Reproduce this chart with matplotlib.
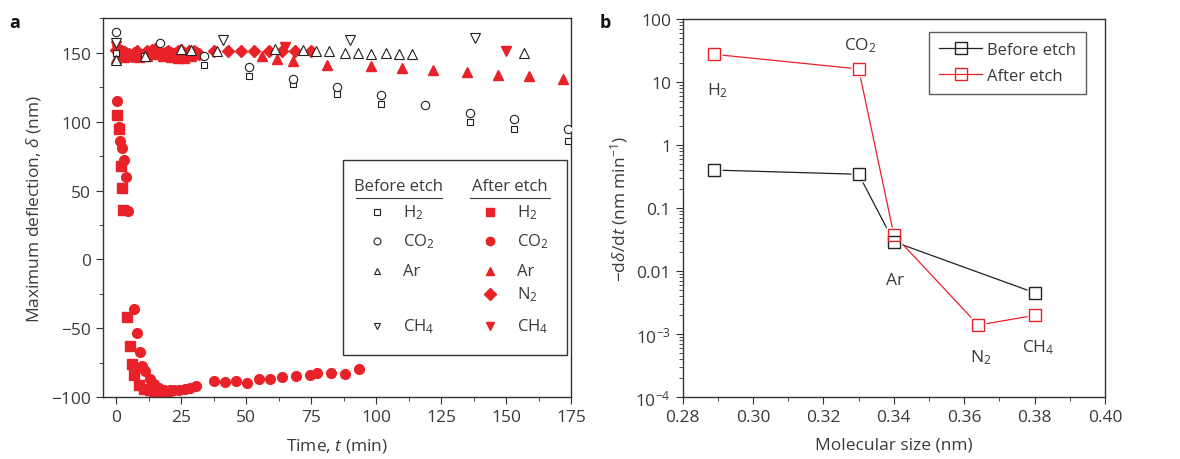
import numpy as np
import matplotlib
matplotlib.use('Agg')
import matplotlib.pyplot as plt
from matplotlib.lines import Line2D
from matplotlib.patches import Rectangle

plt.rcParams["font.family"] = ["Open Sans", "DejaVu Sans"]
plt.rcParams["mathtext.fontset"] = "custom"
plt.rcParams["mathtext.rm"] = "Open Sans"
plt.rcParams["mathtext.it"] = "Open Sans:italic"
plt.rcParams["mathtext.bf"] = "Open Sans:bold"
plt.rcParams["font.size"] = 12

TXT = "#3a3a3a"
RED = "#e92128"

# ---- panel a: before etch (open black markers) ----
b_h2_t = [0, 10.6, 34, 51, 68, 85, 102, 136, 153, 174]
b_h2_d = [150, 148, 141, 133, 127, 120, 113, 100, 95, 86]
b_co2_t = [0, 17, 34, 51, 68, 85, 102, 119, 136, 153, 174]
b_co2_d = [165, 157, 148, 140, 131, 125, 119, 112, 106, 102, 95]
b_ar_t = [0, 11, 25, 29, 39, 61, 72, 77, 82, 88, 93, 98, 104, 109, 114, 157]
b_ar_d = [145, 148, 153, 152, 151, 153, 152, 151, 151, 150, 150, 149, 150, 149, 149, 150]
b_ch4_t = [0, 41, 90, 138]
b_ch4_d = [157, 159, 159, 161]

# ---- panel a: after etch (filled red markers) ----
a_h2_t = [0.4, 1.3, 1.8, 2.2, 2.7, 4.2, 5.2, 6.1, 7.0, 9.0, 10.8, 13, 14.5, 17, 19.6]
a_h2_d = [105, 95, 68, 52, 36, -42, -63, -76, -84, -91, -94, -95, -96, -97, -98]
a_co2_t = [0.4, 1.0, 1.65, 2.3, 2.9, 3.8, 4.8, 6.8, 8.1, 9.1, 10.1, 11.3, 12.9, 14.5, 16.4,
           18.6, 20.9, 22.4, 24.3, 26.7, 28.6, 30.9, 37.6, 41.8, 46.0, 50.4, 54.9, 59.1,
           63.9, 69.3, 74.5, 77.3, 82.8, 88.2, 93.3]
a_co2_d = [115, 96, 86, 81, 72, 60, 35, -36, -53, -67, -77, -81, -87, -90, -93,
           -94.5, -94.5, -94.5, -95, -94, -93, -92, -88.4, -89, -88, -89.6, -86.7, -86.7,
           -85, -84.8, -83.8, -82.6, -82, -83, -79.5]
a_ar_t = [0, 3, 6, 9, 12, 15, 18, 21, 24, 26, 29, 32, 56, 62, 68, 81, 98, 110, 122, 135, 147, 159, 172]
a_ar_d = [146, 147, 148, 147, 148, 149, 148, 147, 146, 146, 148, 149, 148, 145.5, 144, 141,
          140.6, 138.7, 137.7, 135.8, 134, 133, 131]
a_n2_t = [0, 1, 2, 3, 4, 5, 6, 7, 8, 9, 10, 11, 12, 13, 14, 15, 16, 17, 18, 19, 20, 21,
          22, 23, 24, 25, 26, 27, 28, 29, 30, 31, 32, 37.5, 43, 48, 53, 59, 64, 69, 75]
a_n2_d = [152, 150, 149, 148, 150, 149, 148, 150, 151, 149, 148, 150, 151, 150, 152, 153,
          151, 150, 149, 150, 151, 150, 149, 150, 151, 152, 150, 149, 151, 150, 151, 150,
          149, 151, 151, 151.5, 151, 151, 151, 151.5, 151]
a_ch4_t = [0, 0.5, 1.5, 65, 150]
a_ch4_d = [155, 152, 151, 154, 151.5]

# ---- panel b ----
gases = ["H$_2$", "CO$_2$", "Ar", "N$_2$", "CH$_4$"]
mol_size = [0.289, 0.330, 0.340, 0.364, 0.380]
rate_before_x = [0.289, 0.330, 0.340, 0.380]
rate_before = [0.405, 0.347, 0.0295, 0.00457]
rate_after = [27.8, 16.3, 0.038, 0.0014, 0.002]
gas_label_y = [7.6, 39, 0.0073, 0.00044, 0.00063]
gas_label_x = [0.2899, 0.3304, 0.3403, 0.3648, 0.381]

fig = plt.figure(figsize=(11.8, 4.6), dpi=100)
ax1 = fig.add_axes([0.0873, 0.1341, 0.3966, 0.8239])
ax2 = fig.add_axes([0.5786, 0.1341, 0.3578, 0.8217])

for ax in (ax1, ax2):
    for s in ax.spines.values():
        s.set_color("#333333")
        s.set_linewidth(1.0)
    ax.tick_params(which="both", direction="out", colors="#333333", labelcolor=TXT,
                   labelsize=12.5)
    ax.tick_params(which="major", length=5)
    ax.tick_params(which="minor", length=3)

open_kw = dict(ls="none", mfc="white", mec="#222222", mew=0.8, zorder=3)
fill_kw = dict(ls="none", color=RED, mec=RED, zorder=2)
ax1.plot(a_ar_t, a_ar_d, marker="^", ms=7, **fill_kw)
ax1.plot(a_n2_t, a_n2_d, marker="D", ms=6.5, **fill_kw)
ax1.plot(a_ch4_t, a_ch4_d, marker="v", ms=7, **fill_kw)
ax1.plot(a_h2_t, a_h2_d, marker="s", ms=6.5, **fill_kw)
ax1.plot(a_co2_t, a_co2_d, marker="o", ms=7, **fill_kw)
ax1.plot(b_h2_t, b_h2_d, marker="s", ms=5, **open_kw)
ax1.plot(b_co2_t, b_co2_d, marker="o", ms=6, **open_kw)
ax1.plot(b_ar_t, b_ar_d, marker="^", ms=6.5, **open_kw)
ax1.plot(b_ch4_t, b_ch4_d, marker="v", ms=6.5, **open_kw)

ax1.set_xlim(-5, 175)
ax1.set_ylim(-100, 175)
ax1.set_xticks(np.arange(0, 176, 25))
ax1.set_xticks(np.arange(12.5, 175, 25), minor=True)
ax1.set_yticks(np.arange(-100, 151, 50))
ax1.set_yticks(np.arange(-75, 176, 50), minor=True)
ax1.set_xlabel("Time, $\\it{t}$ (min)", color=TXT, fontsize=12.5, labelpad=8)
ax1.set_ylabel("Maximum deflection, $\\delta$ (nm)", color=TXT, fontsize=12.5, labelpad=6)
fig.text(0.008, 0.94, "a", fontsize=13, fontweight="bold", color="#111111")

# custom two-column legend
tr = ax1.transAxes
ax1.add_patch(Rectangle((0.513, 0.112), 0.478, 0.514, transform=tr, fill=True,
                        fc="white", ec="#333333", lw=1.0, zorder=5))
ax1.text(0.632, 0.5575, "Before etch", transform=tr, ha="center", va="center",
         color=TXT, fontsize=12, zorder=6)
ax1.text(0.870, 0.5575, "After etch", transform=tr, ha="center", va="center",
         color=TXT, fontsize=12, zorder=6)
ax1.plot([0.540, 0.725], [0.527, 0.527], transform=tr, color=TXT, lw=0.8, zorder=6)
ax1.plot([0.784, 0.955], [0.527, 0.527], transform=tr, color=TXT, lw=0.8, zorder=6)
rows_y = [0.489, 0.4127, 0.3335, 0.2728, 0.1884]
leg_b = [("s", "H$_2$", 0), ("o", "CO$_2$", 1), ("^", "Ar", 2), ("v", "CH$_4$", 4)]
leg_a = [("s", "H$_2$", 0), ("o", "CO$_2$", 1), ("^", "Ar", 2), ("D", "N$_2$", 3),
         ("v", "CH$_4$", 4)]
for m, lab, r in leg_b:
    ax1.plot([0.5855], [rows_y[r]], transform=tr, marker=m, ms=5, ls="none", mfc="white",
             mec="#222222", mew=0.8, zorder=6)
    ax1.text(0.641, rows_y[r], lab, transform=tr, va="center", color=TXT, fontsize=12,
             zorder=6)
for m, lab, r in leg_a:
    ax1.plot([0.827], [rows_y[r]], transform=tr, marker=m, ms=6, ls="none", color=RED,
             zorder=6)
    ax1.text(0.885, rows_y[r], lab, transform=tr, va="center", color=TXT, fontsize=12,
             zorder=6)

# ---- panel b drawing ----
ax2.set_yscale("log")
ax2.plot(rate_before_x, rate_before, color="#222222", lw=0.9, zorder=1)
ax2.plot(mol_size, rate_after, color=RED, lw=0.9, zorder=1)
# white halo so the lines stop short of the markers
ax2.plot(rate_before_x, rate_before, ls="none", marker="s", ms=12, mfc="white",
         mec="none", zorder=2)
ax2.plot(mol_size, rate_after, ls="none", marker="s", ms=12, mfc="white",
         mec="none", zorder=2)
ax2.plot(rate_before_x, rate_before, ls="none", marker="s", ms=8, mfc="none",
         mec="#222222", mew=1.0, zorder=3)
ax2.plot(mol_size, rate_after, ls="none", marker="s", ms=8, mfc="none",
         mec=RED, mew=1.0, zorder=3)
for lab, gx, gy in zip(gases, gas_label_x, gas_label_y):
    ax2.text(gx, gy, lab, ha="center", va="center", color=TXT, fontsize=12.5)

ax2.set_xlim(0.28, 0.40)
ax2.set_ylim(1e-4, 100)
ax2.set_xticks(np.arange(0.28, 0.401, 0.02))
ax2.set_xticklabels(["0.28", "0.30", "0.32", "0.34", "0.36", "0.38", "0.40"])
ax2.set_xticks(np.arange(0.29, 0.40, 0.02), minor=True)
ax2.set_yticks([1e-4, 1e-3, 1e-2, 1e-1, 1, 10, 100])
ax2.set_yticklabels(["10$^{\\mathregular{-4}}$", "10$^{\\mathregular{-3}}$", "0.01", "0.1",
                     "1", "10", "100"])
ax2.yaxis.set_minor_locator(matplotlib.ticker.LogLocator(base=10, subs=np.arange(2, 10)))
ax2.yaxis.set_minor_formatter(matplotlib.ticker.NullFormatter())
ax2.set_xlabel("Molecular size (nm)", color=TXT, fontsize=12.5, labelpad=8)
ax2.set_ylabel("\u2212d$\\delta$/d$\\it{t}$ (nm min$^{\\mathregular{-1}}$)", color=TXT,
               fontsize=12.5, labelpad=4)
fig.text(0.508, 0.94, "b", fontsize=13, fontweight="bold", color="#111111")

handles = [Line2D([], [], color="#222222", lw=0.9, marker="s", ms=8, mfc="none",
                  mec="#222222"),
           Line2D([], [], color=RED, lw=0.9, marker="s", ms=8, mfc="none", mec=RED)]
leg = ax2.legend(handles, ["Before etch", "After etch"], loc="upper left",
                 bbox_to_anchor=(0.583, 0.966), borderaxespad=0, frameon=True,
                 fancybox=False, edgecolor="#333333", handlelength=2.6, fontsize=12,
                 labelspacing=0.6, handletextpad=0.3, borderpad=0.6)
leg.get_frame().set_linewidth(1.0)
for t in leg.get_texts():
    t.set_color(TXT)

fig.savefig("out.png", dpi=100)
